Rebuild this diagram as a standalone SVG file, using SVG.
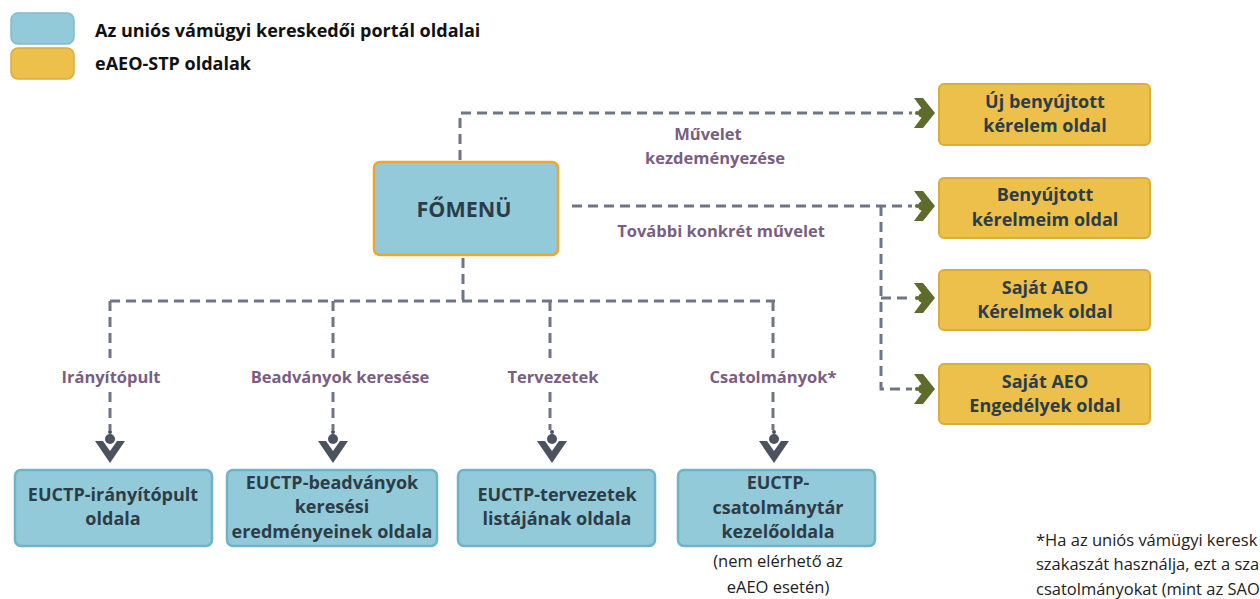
<svg xmlns="http://www.w3.org/2000/svg" width="1260" height="599" viewBox="0 0 1260 599">
<style>
.blue{fill:#93CAD9;stroke:#6FB4C6;stroke-width:2.5}
.yel{fill:#ECC04A;stroke:#D9AD3C;stroke-width:2}
.main{fill:#93CAD9;stroke:#F2A52B;stroke-width:2.5}
.t{font-family:"Open Sans","DejaVu Sans",sans-serif;font-weight:bold;font-size:18px;fill:#2D3D48;text-anchor:middle}
.lg{font-family:"Open Sans","DejaVu Sans",sans-serif;font-weight:bold;font-size:18px;fill:#111}
.lab{font-family:"Open Sans","DejaVu Sans",sans-serif;font-weight:bold;font-size:16.5px;fill:#7A5E82;text-anchor:middle}
.n{font-family:"Open Sans","DejaVu Sans",sans-serif;font-size:16.5px;fill:#222}
.c{fill:none;stroke:#6E7685;stroke-width:3;stroke-dasharray:10 6}
</style>
<defs>
<g id="ar">
<circle cx="-19" cy="0" r="2" fill="#5F6B2A"/>
<circle cx="-13" cy="0" r="5" fill="#5F6B2A"/>
<polygon points="-22,-15 -13,-15 -1,0 -13,15 -22,15 -11,0" fill="#5F6B2A"/>
</g>
<g id="ad">
<circle cx="0" cy="-29" r="2" fill="#4B5361"/>
<circle cx="0" cy="-22" r="5" fill="#4B5361"/>
<polygon points="-15,-20 -7,-20 0,-10 7,-20 15,-20 0,2" fill="#4B5361"/>
</g>
</defs>

<g id="legend">
<rect x="11" y="13" width="63" height="31" rx="7" fill="#93CAD9" stroke="#7FBCCB" stroke-width="1.5"/>
<rect x="11" y="48" width="63" height="31" rx="7" fill="#ECC04A" stroke="#D9AD3C" stroke-width="1.5"/>
<text class="lg" x="95" y="37">Az uniós vámügyi kereskedői portál oldalai</text>
<text class="lg" x="95" y="70">eAEO-STP oldalak</text>
</g>

<g id="connectors">
<polyline class="c" points="460,160 460,113 912,113"/>
<line class="c" x1="572" y1="206" x2="912" y2="206"/>
<polyline class="c" points="881,206 881,389 912,389"/>
<line class="c" x1="881" y1="298" x2="912" y2="298"/>
<line class="c" x1="463" y1="258" x2="463" y2="301"/>
<line class="c" x1="110" y1="301" x2="775" y2="301"/>
<line class="c" x1="110" y1="301" x2="110" y2="358"/>
<line class="c" x1="110" y1="392" x2="110" y2="430"/>
<line class="c" x1="333" y1="301" x2="333" y2="358"/>
<line class="c" x1="333" y1="392" x2="333" y2="430"/>
<line class="c" x1="550" y1="301" x2="550" y2="358"/>
<line class="c" x1="550" y1="392" x2="550" y2="430"/>
<line class="c" x1="773" y1="301" x2="773" y2="358"/>
<line class="c" x1="773" y1="392" x2="773" y2="430"/>
<use href="#ar" x="936" y="113"/>
<use href="#ar" x="936" y="206"/>
<use href="#ar" x="936" y="298"/>
<use href="#ar" x="936" y="389"/>
<use href="#ad" x="110" y="461"/>
<use href="#ad" x="333" y="461"/>
<use href="#ad" x="552" y="461"/>
<use href="#ad" x="774" y="461"/>
<text class="lab" x="708" y="140">Művelet</text>
<text class="lab" x="715" y="164">kezdeményezése</text>
<text class="lab" x="721" y="237">További konkrét művelet</text>
<text class="lab" x="111" y="383">Irányítópult</text>
<text class="lab" x="340" y="383">Beadványok keresése</text>
<text class="lab" x="553" y="383">Tervezetek</text>
<text class="lab" x="773" y="383">Csatolmányok*</text>
</g>

<g id="fomenu">
<rect class="main" x="374" y="162" width="184" height="93" rx="6"/>
<text class="t" x="464" y="217" style="font-size:21.5px">FŐMENÜ</text>
</g>

<g id="uj">
<rect class="yel" x="939" y="84" width="211" height="61" rx="5"/>
<text class="t" x="1045" y="108">Új benyújtott</text>
<text class="t" x="1045" y="132">kérelem oldal</text>
</g>
<g id="benyujtott">
<rect class="yel" x="939" y="178" width="211" height="60" rx="5"/>
<text class="t" x="1045" y="201">Benyújtott</text>
<text class="t" x="1045" y="226">kérelmeim oldal</text>
</g>
<g id="kerelmek">
<rect class="yel" x="939" y="270" width="211" height="60" rx="5"/>
<text class="t" x="1045" y="294">Saját AEO</text>
<text class="t" x="1045" y="318">Kérelmek oldal</text>
</g>
<g id="engedelyek">
<rect class="yel" x="939" y="364" width="211" height="60" rx="5"/>
<text class="t" x="1045" y="388">Saját AEO</text>
<text class="t" x="1045" y="412">Engedélyek oldal</text>
</g>

<g id="iranyitopult">
<rect class="blue" x="15" y="470" width="197" height="76" rx="6"/>
<text class="t" x="113" y="501">EUCTP-irányítópult</text>
<text class="t" x="113" y="525">oldala</text>
</g>
<g id="beadvanyok">
<rect class="blue" x="227" y="470" width="210" height="76" rx="6"/>
<text class="t" x="332" y="489">EUCTP-beadványok</text>
<text class="t" x="332" y="513">keresési</text>
<text class="t" x="332" y="538">eredményeinek oldala</text>
</g>
<g id="tervezetek">
<rect class="blue" x="458" y="470" width="197" height="76" rx="6"/>
<text class="t" x="557" y="501">EUCTP-tervezetek</text>
<text class="t" x="557" y="525">listájának oldala</text>
</g>
<g id="csatolmany">
<rect class="blue" x="678" y="470" width="197" height="76" rx="6"/>
<text class="t" x="778" y="489">EUCTP-</text>
<text class="t" x="778" y="514">csatolmánytár</text>
<text class="t" x="778" y="538">kezelőoldala</text>
<text class="n" x="778" y="567" text-anchor="middle">(nem elérhető az</text>
<text class="n" x="778" y="593" text-anchor="middle">eAEO esetén)</text>
</g>

<g id="footnote">
<text class="n" x="1036" y="546">*Ha az uniós vámügyi keresk</text>
<text class="n" x="1036" y="570">szakaszát használja, ezt a sza</text>
<text class="n" x="1036" y="595">csatolmányokat (mint az SAO</text>
</g>
</svg>
